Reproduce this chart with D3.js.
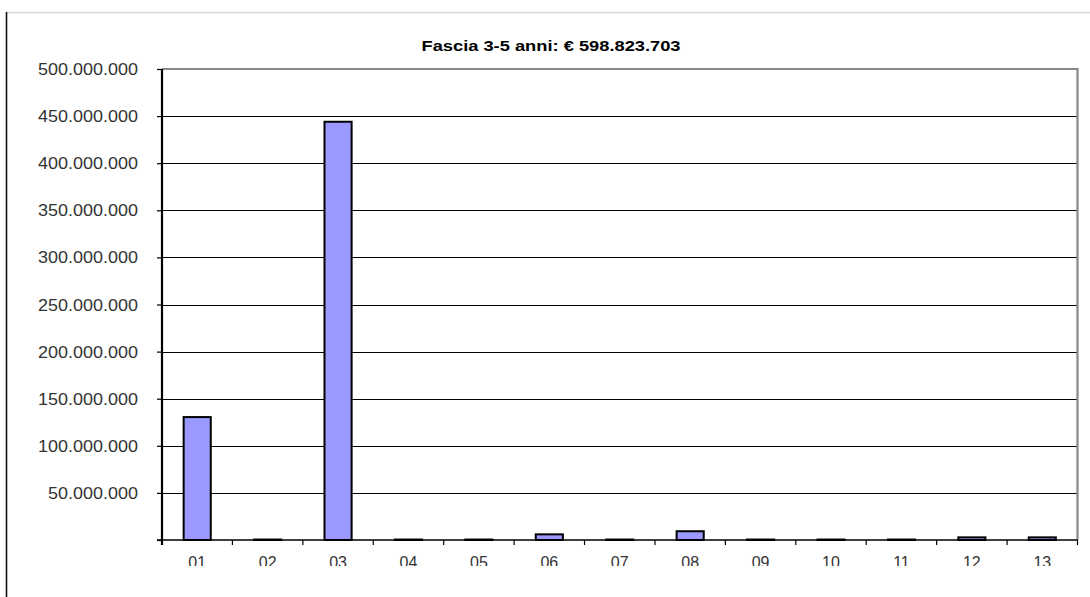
<!DOCTYPE html>
<html>
<head>
<meta charset="utf-8">
<script src="https://cdn.jsdelivr.net/npm/d3@7"></script>
<style>
  html, body { margin: 0; padding: 0; background: #fff; }
  svg { display: block; }
</style>
</head>
<body>
<svg id="chart" width="1090" height="597"></svg>
<script>
// Importi per codice (fascia 3-5 anni)
const categories = ["01","02","03","04","05","06","07","08","09","10","11","12","13"];
const values = [130500000, 500000, 444000000, 500000, 500000, 6000000, 500000, 9300000, 500000, 500000, 500000, 2800000, 2800000];
const yTicks = [50000000, 100000000, 150000000, 200000000, 250000000, 300000000, 350000000, 400000000, 450000000, 500000000];
const titleText = "Fascia  3-5 anni: € 598.823.703";

const svg = d3.select("#chart");
const W = 1090, H = 597;
const plot = { left: 162, right: 1077.5, top: 69, bottom: 540 };

// outer frame (top and left edges)
svg.append("line").attr("x1", 6).attr("x2", W).attr("y1", 12.5).attr("y2", 12.5)
  .attr("stroke", "#d9d9d9").attr("stroke-width", 1.5);
svg.append("line").attr("x1", 6.5).attr("x2", 6.5).attr("y1", 12).attr("y2", H)
  .attr("stroke", "#111").attr("stroke-width", 1.6);

const x = d3.scaleBand().domain(categories).range([plot.left, plot.right]).paddingInner(0).paddingOuter(0);
const y = d3.scaleLinear().domain([0, 500000000]).range([plot.bottom, plot.top]);

const fmt = v => d3.format(",")(v).replace(/,/g, ".");

// horizontal gridlines
svg.append("g").selectAll("line").data(yTicks.filter(t => t < 500000000)).join("line")
  .attr("x1", plot.left).attr("x2", plot.right)
  .attr("y1", d => Math.round(y(d)) + 0.5).attr("y2", d => Math.round(y(d)) + 0.5)
  .attr("stroke", "#000").attr("stroke-width", 1.2);

// plot area top and right border
svg.append("path")
  .attr("d", `M${plot.left},${plot.top} H${plot.right} V${plot.bottom}`)
  .attr("fill", "none").attr("stroke", "#888").attr("stroke-width", 2.2);

// bars
const barW = x.bandwidth() * 0.385;
svg.append("g").selectAll("rect").data(categories).join("rect")
  .attr("x", (d) => x(d) + (x.bandwidth() - barW) / 2)
  .attr("width", barW)
  .attr("y", (d, i) => y(values[i]))
  .attr("height", (d, i) => y(0) - y(values[i]))
  .attr("fill", "#9999ff").attr("stroke", "#000").attr("stroke-width", 2);

// y axis
const yAxis = svg.append("g").attr("transform", `translate(${plot.left},0)`)
  .call(d3.axisLeft(y).tickValues([0].concat(yTicks)).tickSize(5).tickFormat(""));
yAxis.select(".domain").remove();
yAxis.selectAll(".tick line").attr("stroke", "#000").attr("stroke-width", 1.2);
svg.append("line").attr("x1", plot.left).attr("x2", plot.left)
  .attr("y1", plot.top).attr("y2", plot.bottom + 5)
  .attr("stroke", "#000").attr("stroke-width", 2.2);

svg.append("g").selectAll("text").data(yTicks).join("text")
  .attr("transform", d => `translate(138,${y(d) + 6}) scale(1.09,1)`)
  .attr("text-anchor", "end")
  .attr("font-family", "'Liberation Sans', Arial, sans-serif")
  .attr("font-size", 16.5)
  .attr("fill", "#333")
  .text(fmt);

// x axis
svg.append("line").attr("x1", plot.left - 5).attr("x2", plot.right)
  .attr("y1", plot.bottom).attr("y2", plot.bottom)
  .attr("stroke", "#000").attr("stroke-width", 1.5);
const bounds = categories.map(c => x(c)).concat([plot.right]);
svg.append("g").selectAll("line").data(bounds.slice(1)).join("line")
  .attr("x1", d => d).attr("x2", d => d)
  .attr("y1", plot.bottom).attr("y2", plot.bottom + 5)
  .attr("stroke", "#000").attr("stroke-width", 1.2);

svg.append("clipPath").attr("id", "xlab-clip")
  .append("rect").attr("x", 0).attr("y", 545).attr("width", W).attr("height", 21);
svg.append("g").attr("clip-path", "url(#xlab-clip)")
  .selectAll("text").data(categories).join("text")
  .attr("x", d => x(d) + x.bandwidth() / 2)
  .attr("y", 567.5)
  .attr("text-anchor", "middle")
  .attr("font-family", "'Liberation Sans', Arial, sans-serif")
  .attr("font-size", 16)
  .attr("fill", "#333")
  .text(d => d);

// title
svg.append("text")
  .attr("transform", "translate(551,50.5) scale(1.18,1)")
  .attr("text-anchor", "middle")
  .attr("font-family", "'Liberation Sans', Arial, sans-serif")
  .attr("font-weight", "bold")
  .attr("font-size", 15.5)
  .attr("fill", "#000")
  .text(titleText);
</script>
</body>
</html>
